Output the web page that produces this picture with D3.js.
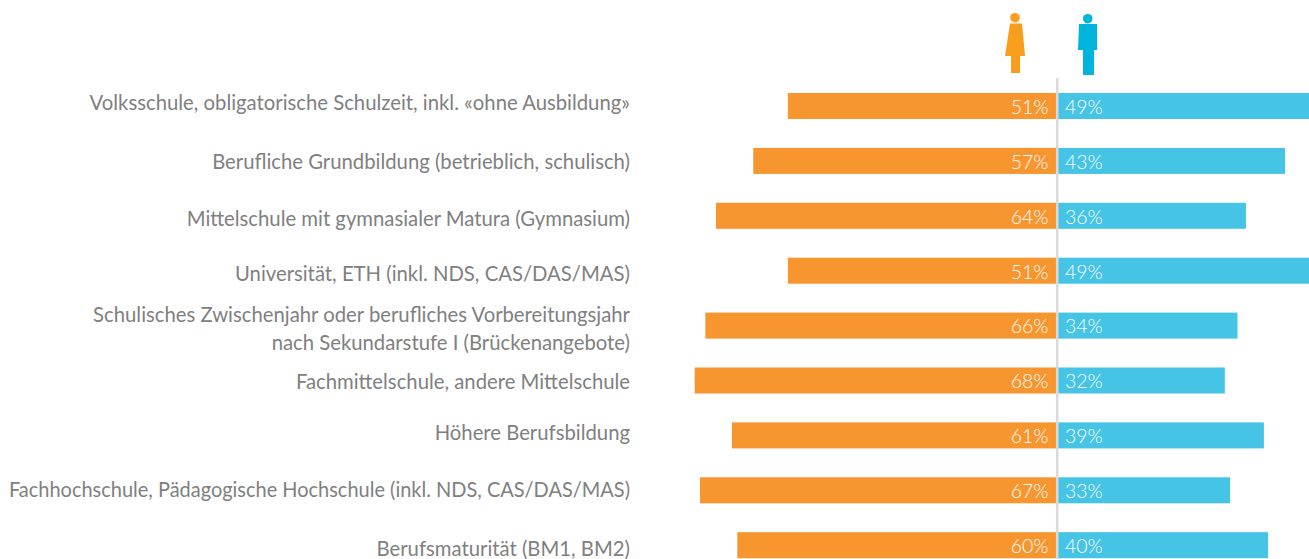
<!DOCTYPE html>
<html><head><meta charset="utf-8">
<script src="https://cdn.jsdelivr.net/npm/d3@7"></script>
<style>html,body{margin:0;padding:0;background:#fff;overflow:hidden}svg{display:block}text{font-family:Lato,sans-serif}</style>
</head><body><svg id="c" width="1309" height="559"></svg>
<script>
const categories=[
 ["Volksschule, obligatorische Schulzeit, inkl. «ohne Ausbildung»"],
 ["Berufliche Grundbildung (betrieblich, schulisch)"],
 ["Mittelschule mit gymnasialer Matura (Gymnasium)"],
 ["Universität, ETH (inkl. NDS, CAS/DAS/MAS)"],
 ["Schulisches Zwischenjahr oder berufliches Vorbereitungsjahr","nach Sekundarstufe I (Brückenangebote)"],
 ["Fachmittelschule, andere Mittelschule"],
 ["Höhere Berufsbildung"],
 ["Fachhochschule, Pädagogische Hochschule (inkl. NDS, CAS/DAS/MAS)"],
 ["Berufsmaturität (BM1, BM2)"]];
const women=[50.5,57,64,50.5,66,68,61,67,60];
const men=[49,43,35.6,49,34,31.6,39,32.6,39.8];
const svg=d3.select("#c");
const y=d3.scaleBand().domain(d3.range(categories.length)).range([93,558.2]).paddingInner(0.526).paddingOuter(0);
const xW=d3.scaleLinear().domain([0,68]).range([1056,694]);
const xM=d3.scaleLinear().domain([0,43]).range([1058,1285]);
const W=y.bandwidth();
svg.selectAll(".w").data(women).join("rect").attr("x",d=>xW(d)+0.7).attr("y",(d,i)=>y(i)).attr("width",d=>xW(0)-xW(d)-0.7).attr("height",W).attr("fill","#F7952F");
svg.selectAll(".m").data(men).join("rect").attr("x",xM(0)).attr("y",(d,i)=>y(i)).attr("width",d=>xM(d)-xM(0)).attr("height",W).attr("fill","#45C4E5");
svg.append("line").attr("x1",1057.2).attr("x2",1057.2).attr("y1",78).attr("y2",559).attr("stroke","#DADADA").attr("stroke-width",2.6);
const fmt=d=>Math.round(d)+"%";
svg.selectAll(".wl").data(women).join("text").attr("x",1048.5).attr("y",(d,i)=>y(i)+W/2+7.8).attr("text-anchor","end").attr("fill","#fff").attr("font-size",19.5).attr("font-weight",300).text(fmt);
svg.selectAll(".ml").data(men).join("text").attr("x",1065).attr("y",(d,i)=>y(i)+W/2+7.8).attr("fill","#fff").attr("font-size",19.5).attr("font-weight",300).text(fmt);
const labelY=[103,162,219,274,315,382,433,490,549];
const maxLabel=621;
categories.forEach((c,i)=>{
  c.forEach((t,j)=>{
    const n=svg.append("text").attr("x",630).attr("y",labelY[i]+j*28+6.5).attr("text-anchor","end").attr("fill","#808080").attr("font-size",20.3).text(t);
    if(n.node().getComputedTextLength()>maxLabel) n.attr("textLength",maxLabel).attr("lengthAdjust","spacingAndGlyphs");
  });
});
const woman=svg.append("g").attr("fill","#F99D1C");
woman.append("circle").attr("cx",1015).attr("cy",17.7).attr("r",4.8);
woman.append("path").attr("d","M1010 23.5H1022L1025 56H1020V73H1011V56H1005Z");
const man=svg.append("g").attr("fill","#00B5DD");
man.append("circle").attr("cx",1087.7).attr("cy",18.7).attr("r",4.8);
man.append("path").attr("d","M1079 24H1097L1097 50H1094V75H1083V50H1078Z");
</script></body></html>
